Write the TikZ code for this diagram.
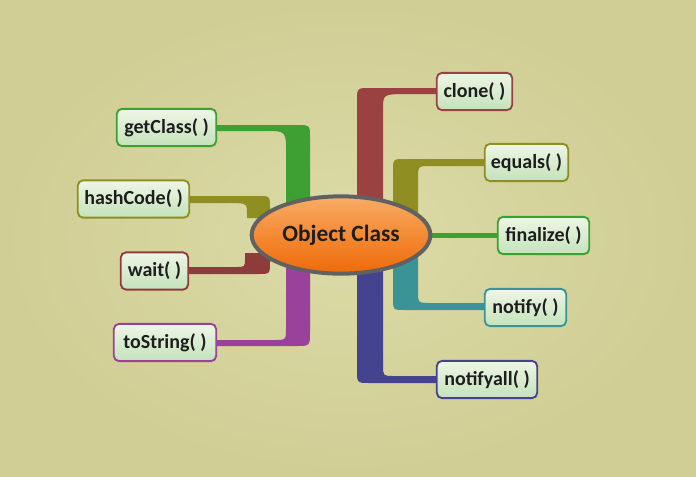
\documentclass[tikz,border=0pt]{standalone}
\usepackage{fontspec}
\setmainfont{Carlito}
\usetikzlibrary{shapes.geometric,calc}
\definecolor{bgin}{HTML}{DCDBA8}
\definecolor{bgout}{HTML}{D0CE94}
\definecolor{cgreen}{HTML}{3DA033}
\definecolor{colive}{HTML}{8E8E22}
\definecolor{cwine}{HTML}{8E3B3B}
\definecolor{cclone}{HTML}{9A4242}
\definecolor{cpurple}{HTML}{9A419B}
\definecolor{cteal}{HTML}{3A9496}
\definecolor{cindigo}{HTML}{43438F}
\definecolor{boxtop}{HTML}{EEF6E6}
\definecolor{boxbot}{HTML}{C4E2BA}
\definecolor{ortop}{HTML}{F8AC66}
\definecolor{ormid}{HTML}{F48A34}
\definecolor{orbot}{HTML}{EE6A0A}
\definecolor{txt}{HTML}{1E1E1E}
\begin{document}
\begin{tikzpicture}[x=0.75pt,y=-0.75pt,
  method/.style args={#1/#2}{draw=#1, line width=1.4pt, rounded corners=4pt,
    top color=boxtop, bottom color=boxbot, minimum height=28pt,
    minimum width=#2, inner sep=0pt, font=\bfseries\fontsize{15}{17}\selectfont, text=txt},
  hub/.style={ellipse, draw=black!62, line width=3pt, top color=ortop, bottom color=orbot,
    middle color=ormid, minimum width=134pt, minimum height=58pt, inner sep=0pt,
    font=\bfseries\fontsize{17.5}{20}\selectfont, text=txt}]
\shade[inner color=bgin, outer color=bgout] (0,0) rectangle (696,476);
\useasboundingbox (0,0) rectangle (696,476);

% method boxes
\node[method=cgreen/74.6pt]  (gc) at (166.5,127.5) {getClass( )};
\node[method=colive/83.6pt]  (hc) at (133.5,199)   {hashCode( )};
\node[method=cwine/50.6pt]   (wt) at (154.5,271)   {wait( )};
\node[method=cpurple/76.8pt] (ts) at (165,342.5)   {toString( )};
\node[method=cclone/56.6pt]  (cl) at (474.5,91.5)  {clone( )};
\node[method=colive/62.6pt]  (eq) at (526.5,162.5) {equals( )};
\node[method=cgreen/68.6pt]  (fz) at (543.5,235.5) {finalize( )};
\node[method=cteal/61.1pt]   (nt) at (525.5,307.5) {notify( )};
\node[method=cindigo/75.3pt] (na) at (487,379.5)   {notifyall( )};

% connectors (drawn before the hub, which covers their inner ends)
\fill[cgreen] ($(gc.east)+(0,-2.5)$) -- (297,125) .. controls (310,125) .. (310,138)
  -- (310,215) -- (286,215) -- (286,145) .. controls (286,132) and (282,131) .. (270,131)
  -- ($(gc.east)+(0,3.5)$) -- cycle;
\fill[colive] ($(hc.east)+(0,-3)$) -- (258,196) .. controls (270,196) .. (270,208)
  -- (270,230) -- (262,230) -- (262,218) -- (247,218) -- (247,214)
  .. controls (247,204) .. (237,203) -- ($(hc.east)+(0,4)$) -- cycle;
\fill[cwine] ($(wt.east)+(0,-4)$) -- (236,267) .. controls (245,267) .. (245,258)
  -- (245,253) -- (275,253) -- (270,262) .. controls (270,274) .. (258,274)
  -- ($(wt.east)+(0,3)$) -- cycle;
\fill[cpurple] ($(ts.east)+(0,-2.5)$) -- (274,340) .. controls (286,340) .. (286,328)
  -- (286,260) -- (310,260) -- (310,332) .. controls (310,346) .. (296,346)
  -- ($(ts.east)+(0,3.5)$) -- cycle;
\fill[cclone] ($(cl.west)+(0,-3.5)$) -- (370,88) .. controls (357,88) .. (357,101)
  -- (357,215) -- (383,215) -- (383,112) .. controls (383,95) .. (398,94)
  -- ($(cl.west)+(0,2.5)$) -- cycle;
\fill[colive] ($(eq.west)+(0,-3.5)$) -- (405,159) .. controls (393,159) .. (393,171)
  -- (393,222) -- (418,222) -- (418,180) .. controls (418,166) .. (430,166)
  -- ($(eq.west)+(0,3.5)$) -- cycle;
\fill[cgreen] (420,233) -- ($(fz.west)+(0,-2.5)$) -- ($(fz.west)+(0,2.5)$) -- (420,238) -- cycle;
\fill[cteal] (418,250) -- (418,290) .. controls (418,303) .. (430,303)
  -- ($(nt.west)+(0,-4.5)$) -- ($(nt.west)+(0,2.5)$) -- (405,310)
  .. controls (393,310) .. (393,298) -- (393,250) -- cycle;
\fill[cindigo] (383,260) -- (383,365) .. controls (383,376) .. (394,376)
  -- ($(na.west)+(0,-3.5)$) -- ($(na.west)+(0,3.5)$) -- (370,383)
  .. controls (357,383) .. (357,370) -- (357,260) -- cycle;

% hub
\node[hub] (oc) at (341,235) {Object Class};
\end{tikzpicture}
\end{document}
